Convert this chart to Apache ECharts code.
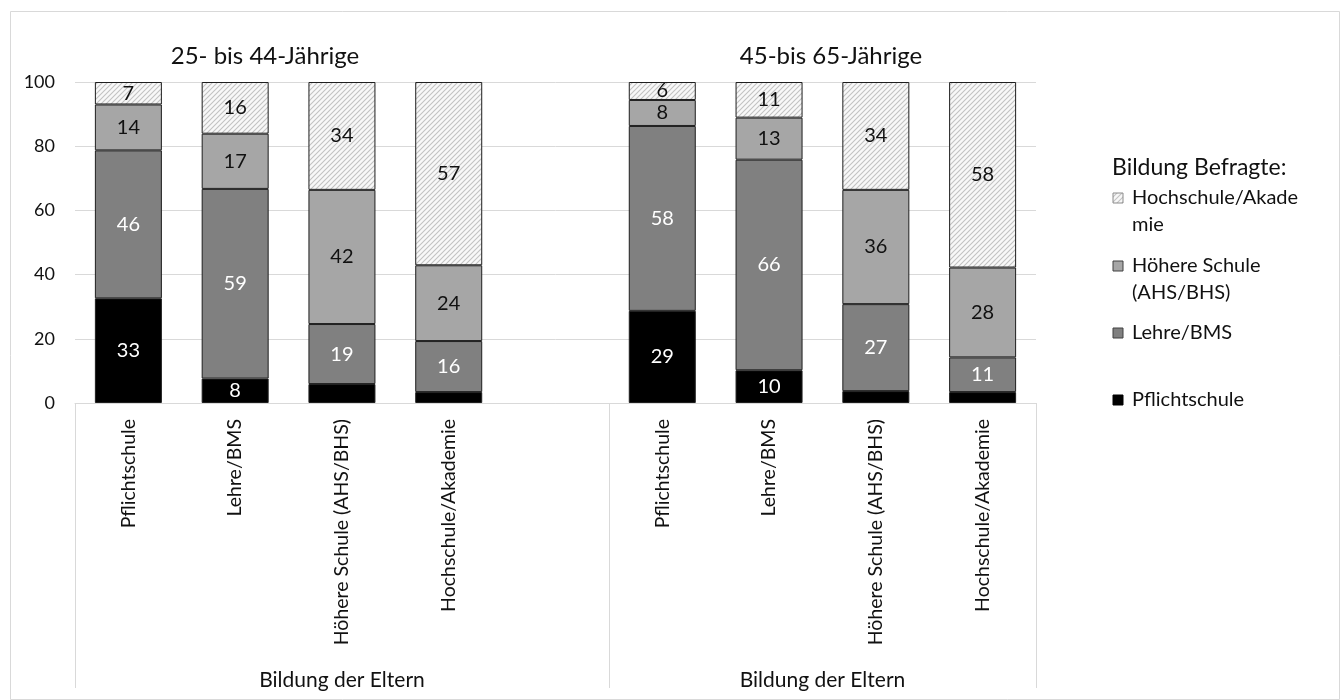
<!DOCTYPE html>
<html>
<head>
<meta charset="utf-8">
<script src="https://cdn.jsdelivr.net/npm/echarts@6/dist/echarts.min.js"></script>
<style>
html,body{margin:0;padding:0;background:#fff;}
#chart{width:1343px;height:700px;}
</style>
</head>
<body>
<div id="chart"></div>
<script>
// ---- data ----
var categories = ['Pflichtschule','Lehre/BMS','Höhere Schule (AHS/BHS)','Hochschule/Akademie','',
                  'Pflichtschule','Lehre/BMS','Höhere Schule (AHS/BHS)','Hochschule/Akademie'];
var groupTitles = ['25- bis 44-Jährige','45-bis 65-Jährige'];
var groupAxisLabel = 'Bildung der Eltern';
var legendTitle = 'Bildung Befragte:';
var seriesNames = ['Pflichtschule','Lehre/BMS','Höhere Schule (AHS/BHS)','Hochschule/Akademie'];
var pflichtschule = [32.6, 7.6, 5.9, 3.4, null, 28.7, 10.2, 3.7, 3.4];
var lehreBMS      = [46.1, 59.1, 18.7, 15.9, null, 57.6, 65.6, 27.1, 10.8];
var hoehereSchule = [14.3, 17.2, 41.8, 23.6, null, 8.1, 13.1, 35.6, 28.0];
var hochschule    = [7.0, 16.1, 33.6, 57.1, null, 5.6, 11.1, 33.6, 57.8];
var yTicks = [0, 20, 40, 60, 80, 100];
var labelMin = [6, 5, 5, 5]; // smaller segments carry no label

// ---- hatch pattern ----
function makeHatch() {
  var s = 5;
  var c = document.createElement('canvas');
  c.width = s; c.height = s;
  var g = c.getContext('2d');
  g.fillStyle = '#f8f8f8';
  g.fillRect(0, 0, s, s);
  g.strokeStyle = '#c2c2c2';
  g.lineWidth = 1.1;
  g.beginPath();
  g.moveTo(0, s); g.lineTo(s, 0);
  g.moveTo(-1, 1); g.lineTo(1, -1);
  g.moveTo(s - 1, s + 1); g.lineTo(s + 1, s - 1);
  g.stroke();
  return c;
}
var hatch = { image: makeHatch(), repeat: 'repeat' };

var FONT = 'Lato';
var colors = ['#000000', '#808080', '#a6a6a6', hatch];
var labelColors = ['#ffffff', '#ffffff', '#111111', '#111111'];
var dataSets = [pflichtschule, lehreBMS, hoehereSchule, hochschule];

var series = seriesNames.map(function (name, i) {
  return {
    name: name,
    type: 'bar',
    stack: 'total',
    barWidth: 67,
    xAxisIndex: 0,
    data: dataSets[i],
    itemStyle: { color: colors[i], borderColor: '#1e1e1e', borderWidth: 1 },
    label: {
      show: true,
      position: 'inside',
      fontFamily: FONT,
      fontSize: 20,
      color: labelColors[i],
      formatter: function (p) {
        if (p.value == null || p.value < labelMin[i]) return '';
        return String(Math.round(p.value));
      }
    },
    emphasis: { disabled: true }
  };
});

var chart = echarts.init(document.getElementById('chart'), null, { renderer: 'canvas' });

var legendItems = [
  { text: 'Hochschule/Akade\nmie', y: 198, fill: hatch, stroke: '#8c8c8c' },
  { text: 'Höhere Schule\n(AHS/BHS)', y: 266, fill: '#a6a6a6', stroke: '#404040' },
  { text: 'Lehre/BMS', y: 333, fill: '#808080', stroke: '#404040' },
  { text: 'Pflichtschule', y: 400, fill: '#000000', stroke: '#000000' }
];
var graphics = [
  { type: 'rect', left: 8, top: 9, shape: { width: 1329, height: 688 },
    style: { fill: 'none', stroke: '#d9d9d9', lineWidth: 1 }, silent: true },
  { type: 'text', x: 1112, y: 168,
    style: { text: legendTitle, fontFamily: FONT, fontSize: 23, fill: '#111', verticalAlign: 'middle' } }
];
legendItems.forEach(function (it) {
  graphics.push({ type: 'rect', shape: { x: 1113, y: it.y - 5, width: 10, height: 10 },
    style: { fill: it.fill, stroke: it.stroke, lineWidth: 1 } });
  graphics.push({ type: 'text', x: 1132, y: it.y - 14,
    style: { text: it.text, fontFamily: FONT, fontSize: 20, lineHeight: 27, fill: '#111', verticalAlign: 'top' } });
});

chart.setOption({
  animation: false,
  backgroundColor: '#ffffff',
  title: [
    { text: groupTitles[0], left: 260, top: 39, textAlign: 'center',
      textStyle: { fontFamily: FONT, fontSize: 24, fontWeight: 'normal', color: '#111' } },
    { text: groupTitles[1], left: 826, top: 39, textAlign: 'center',
      textStyle: { fontFamily: FONT, fontSize: 24, fontWeight: 'normal', color: '#111' } }
  ],
  grid: { left: 75, right: 307, top: 82, bottom: 297, containLabel: false },
  xAxis: [
    {
      type: 'category',
      data: categories,
      position: 'bottom',
      axisLine: { show: true, lineStyle: { color: '#d9d9d9', width: 1 } },
      axisTick: { show: true, length: 285, lineStyle: { color: '#d9d9d9', width: 1 },
        interval: function (i) { return i === 0 || i === 5; } },
      axisLabel: { interval: 0, rotate: 90, margin: 16, fontFamily: FONT, fontSize: 19.5, color: '#111' },
      splitLine: { show: false }
    },
    {
      type: 'value',
      min: 0, max: 9, interval: 0.5,
      position: 'bottom',
      axisLine: { show: false },
      axisTick: { show: false },
      splitLine: { show: false },
      axisLabel: {
        margin: 267, fontFamily: FONT, fontSize: 21, color: '#111',
        showMinLabel: true, showMaxLabel: true,
        formatter: function (v) { return (v === 2.5 || v === 7) ? groupAxisLabel : ''; }
      }
    }
  ],
  yAxis: {
    type: 'value',
    min: yTicks[0], max: yTicks[yTicks.length - 1], interval: yTicks[1] - yTicks[0],
    axisLine: { show: false },
    axisTick: { show: false },
    axisLabel: { margin: 20, fontFamily: FONT, fontSize: 18, color: '#111' },
    splitLine: { show: true, lineStyle: { color: '#d9d9d9', width: 1 } }
  },
  series: series,
  graphic: graphics
});
</script>
</body>
</html>
